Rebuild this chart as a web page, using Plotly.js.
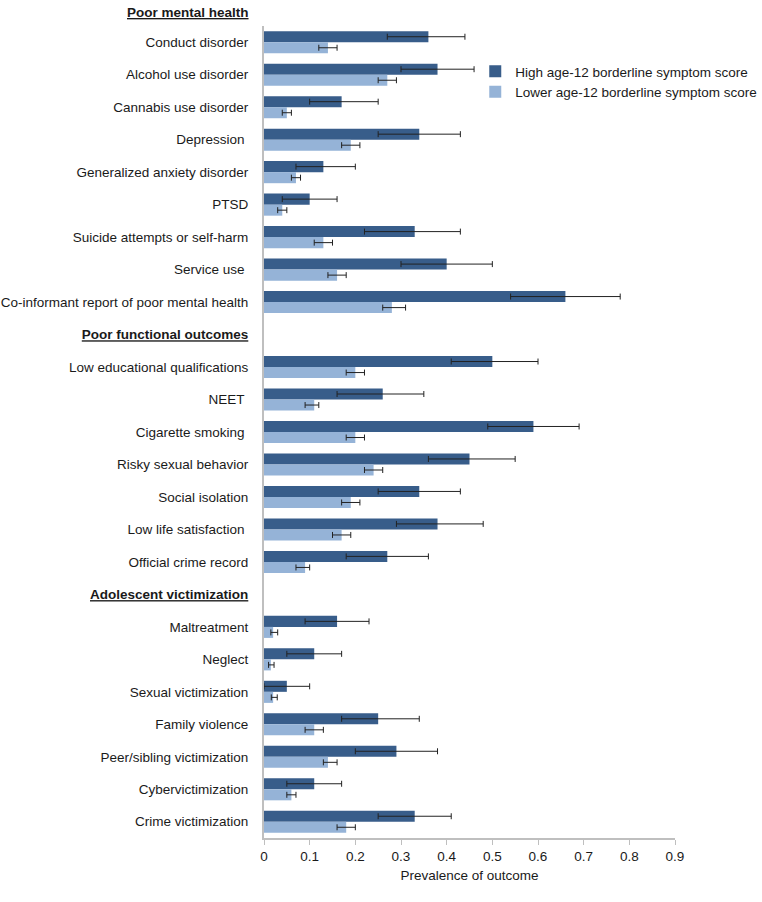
<!DOCTYPE html>
<html>
<head>
<meta charset="utf-8">
<script src="https://cdn.plot.ly/plotly-3.0.1.min.js"></script>
<style>html,body{margin:0;padding:0;background:#fff;}#chart{width:762px;height:902px;}</style>
</head>
<body>
<div id="chart"></div>
<script>
// Row slots (top to bottom); group headers take a slot of their own
var categories = [
  "Conduct disorder", "Alcohol use disorder", "Cannabis use disorder", "Depression\u00a0",
  "Generalized anxiety disorder", "PTSD", "Suicide attempts or self-harm", "Service use\u00a0",
  "Co-informant report of poor mental health",
  "H2",
  "Low educational qualifications", "NEET\u00a0", "Cigarette smoking\u00a0", "Risky sexual behavior",
  "Social isolation", "Low life satisfaction\u00a0", "Official crime record",
  "H3",
  "Maltreatment", "Neglect", "Sexual victimization", "Family violence",
  "Peer/sibling victimization", "Cybervictimization", "Crime victimization"
];
var headerLabels = {"H2": "Poor functional outcomes", "H3": "Adolescent victimization"};
var topHeader = "Poor mental health";

var highValues = [0.36, 0.38, 0.17, 0.34, 0.13, 0.10, 0.33, 0.40, 0.66,
  null,
  0.50, 0.26, 0.59, 0.45, 0.34, 0.38, 0.27,
  null,
  0.16, 0.11, 0.05, 0.25, 0.29, 0.11, 0.33];
var highLower = [0.27, 0.30, 0.10, 0.25, 0.07, 0.04, 0.22, 0.30, 0.54,
  null,
  0.41, 0.16, 0.49, 0.36, 0.25, 0.29, 0.18,
  null,
  0.09, 0.05, 0.00, 0.17, 0.20, 0.05, 0.25];
var highUpper = [0.44, 0.46, 0.25, 0.43, 0.20, 0.16, 0.43, 0.50, 0.78,
  null,
  0.60, 0.35, 0.69, 0.55, 0.43, 0.48, 0.36,
  null,
  0.23, 0.17, 0.10, 0.34, 0.38, 0.17, 0.41];

var lowValues = [0.14, 0.27, 0.05, 0.19, 0.07, 0.04, 0.13, 0.16, 0.28,
  null,
  0.20, 0.11, 0.20, 0.24, 0.19, 0.17, 0.09,
  null,
  0.02, 0.015, 0.02, 0.11, 0.14, 0.06, 0.18];
var lowLower = [0.12, 0.25, 0.04, 0.17, 0.06, 0.03, 0.11, 0.14, 0.26,
  null,
  0.18, 0.09, 0.18, 0.22, 0.17, 0.15, 0.07,
  null,
  0.015, 0.01, 0.016, 0.09, 0.13, 0.05, 0.16];
var lowUpper = [0.16, 0.29, 0.06, 0.21, 0.08, 0.05, 0.15, 0.18, 0.31,
  null,
  0.22, 0.12, 0.22, 0.26, 0.21, 0.19, 0.10,
  null,
  0.03, 0.022, 0.029, 0.13, 0.16, 0.07, 0.20];

var xTicks = [0, 0.1, 0.2, 0.3, 0.4, 0.5, 0.6, 0.7, 0.8, 0.9];
var seriesNames = ["High age-12 borderline symptom score", "Lower age-12 borderline symptom score"];

function diff(a, b) { return a.map(function (v, i) { return (v == null || b[i] == null) ? null : Math.max(0, v - b[i]); }); }

var tickText = categories.map(function (c) {
  return headerLabels[c] ? "<b><u>" + headerLabels[c] + "</u></b>" : c;
});

var errStyle = {color: "#222222", thickness: 1, width: 3};

var traces = [
  {
    type: "bar", orientation: "h", name: seriesNames[0],
    y: categories, x: highValues,
    marker: {color: "#385D8A"},
    error_x: Object.assign({type: "data", symmetric: false, array: diff(highUpper, highValues), arrayminus: diff(highValues, highLower)}, errStyle),
    hoverinfo: "x+y"
  },
  {
    type: "bar", orientation: "h", name: seriesNames[1],
    y: categories, x: lowValues,
    marker: {color: "#95B3D7"},
    error_x: Object.assign({type: "data", symmetric: false, array: diff(lowUpper, lowValues), arrayminus: diff(lowValues, lowLower)}, errStyle),
    hoverinfo: "x+y"
  }
];

var layout = {
  width: 762, height: 902,
  margin: {l: 264, r: 87, t: 26, b: 64, pad: 0, autoexpand: false},
  paper_bgcolor: "#ffffff", plot_bgcolor: "#ffffff",
  font: {family: "Liberation Sans, Arial, sans-serif", size: 13.5, color: "#1a1a1a"},
  barmode: "group", bargap: 0.32, bargroupgap: 0,
  showlegend: true,
  legend: {x: 0.514, y: 0.963, xanchor: "left", yanchor: "top", font: {size: 13.5}, bgcolor: "rgba(0,0,0,0)", tracegroupgap: 0},
  xaxis: {
    range: [0, 0.9], tickvals: xTicks, ticktext: xTicks.map(String),
    showgrid: false, zeroline: false,
    showline: true, linecolor: "#bfbfbf", linewidth: 1.5,
    ticks: "outside", ticklen: 5, tickcolor: "#bfbfbf", tickwidth: 1,
    tickfont: {size: 13.5},
    title: {text: "Prevalence of outcome", font: {size: 13.5}, standoff: 8}
  },
  yaxis: {
    type: "category", categoryorder: "array", categoryarray: categories,
    tickvals: categories, ticktext: tickText,
    autorange: "reversed",
    showgrid: false, zeroline: false,
    showline: true, linecolor: "#bfbfbf", linewidth: 2,
    ticks: "", ticklabelstandoff: 11,
    tickfont: {size: 13.5}
  },
  annotations: [
    {text: "<b><u>" + topHeader + "</u></b>", xref: "paper", yref: "paper", x: 0, y: 1, xanchor: "right", yanchor: "bottom",
     xshift: -13, yshift: 4, showarrow: false, font: {size: 13.5}}
  ]
};

Plotly.newPlot("chart", traces, layout, {displayModeBar: false, staticPlot: true});
</script>
</body>
</html>
